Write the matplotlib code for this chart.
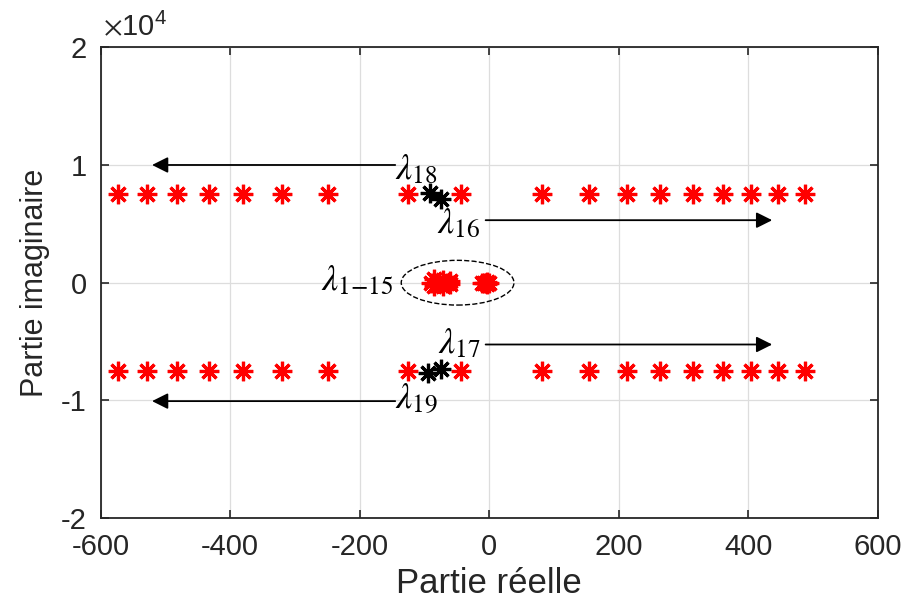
import numpy as np
import matplotlib
matplotlib.use("Agg")
import matplotlib.pyplot as plt
from matplotlib.patches import Ellipse
from matplotlib.ticker import FuncFormatter

plt.rcParams['font.family'] = ['Liberation Sans', 'DejaVu Sans']
plt.rcParams['axes.unicode_minus'] = False
plt.rcParams['mathtext.fontset'] = 'stix'

# real parts of the two outer rows (same for +j and -j)
row_re = [-574, -528, -482, -433, -380, -320, -249, -126, -44,
          82, 154, 213, 264, 314, 360, 404, 446, 487]
row_im = 7500

# lambda 1-15, near the origin
low_re = [-90, -85, -85, -78, -72, -72, -65, -60, -60,
          -12, -8, -5, -3, -3, -1]
low_im = [0, 300, -300, 0, 250, -250, 0, 150, -150,
          0, 0, 0, 100, -100, 0]

# lambda 16-19 (black)
lam_re = [-74, -74, -92, -95]
lam_im = [7150, -7300, 7600, -7700]

xticks = [-600, -400, -200, 0, 200, 400, 600]
yticks = [-20000, -10000, 0, 10000, 20000]

# plot
fig = plt.figure(figsize=(9.07, 6.06), dpi=100)
ax = fig.add_subplot(111)
fig.subplots_adjust(left=0.111, right=0.968, bottom=0.145, top=0.922)

star = (8, 2, 0)
ms, mew = 14, 2.3
re_all = np.array(row_re + row_re)
im_all = np.array([row_im] * len(row_re) + [-row_im] * len(row_re))
ax.plot(re_all, im_all, linestyle='none', marker=star, color='red',
        markersize=ms, markeredgewidth=mew)
ax.plot(low_re, low_im, linestyle='none', marker=star, color='red',
        markersize=ms, markeredgewidth=mew)
ax.plot(lam_re, lam_im, linestyle='none', marker=star, color='black',
        markersize=ms, markeredgewidth=mew)

# dashed ellipse around lambda 1-15
ax.add_patch(Ellipse((-49, 0), 174, 3800, fill=False, edgecolor='k',
                     linestyle='--', linewidth=1.0))

arrow = dict(arrowstyle='-|>', color='k', lw=1.3, mutation_scale=24)
ax.annotate('', xy=(-525, 10000), xytext=(-141, 10000), arrowprops=arrow)
ax.annotate('', xy=(-525, -10060), xytext=(-141, -10060), arrowprops=arrow)
ax.annotate('', xy=(441, 5310), xytext=(-10, 5310), arrowprops=arrow)
ax.annotate('', xy=(441, -5250), xytext=(-10, -5250), arrowprops=arrow)

fs_lam = 26
ax.text(-145, 9600, r'$\lambda_{18}$', fontsize=fs_lam, ha='left', va='center')
ax.text(-145, -9850, r'$\lambda_{19}$', fontsize=fs_lam, ha='left', va='center')
ax.text(-13, 5000, r'$\lambda_{16}$', fontsize=fs_lam, ha='right', va='center')
ax.text(-13, -5150, r'$\lambda_{17}$', fontsize=fs_lam, ha='right', va='center')
ax.text(-148, 200, r'$\lambda_{1{-}15}$', fontsize=fs_lam, ha='right', va='center')

ax.set_xlim(-600, 600)
ax.set_ylim(-20000, 20000)
ax.set_xticks(xticks)
ax.set_yticks(yticks)
ax.yaxis.set_major_formatter(FuncFormatter(lambda v, p: '%g' % (v / 1e4)))
ax.text(0.003, 1.012, r'$\times\mathregular{10^{4}}$', transform=ax.transAxes,
        fontsize=21, ha='left', va='bottom', color='#262626')

ax.grid(True, color='#dddddd', linewidth=0.9)
ax.set_axisbelow(True)
ax.tick_params(direction='in', top=True, right=True, labelsize=21,
               length=6, width=1.2, colors='#262626')
ax.tick_params(axis='x', pad=11)
ax.tick_params(axis='y', pad=10)
for s in ax.spines.values():
    s.set_linewidth(1.3)
    s.set_color('#262626')

ax.set_xlabel('Partie réelle', fontsize=25, color='#262626', labelpad=4)
ax.set_ylabel('Partie imaginaire', fontsize=22, color='#262626', labelpad=8)

fig.savefig('out.png', dpi=100)
